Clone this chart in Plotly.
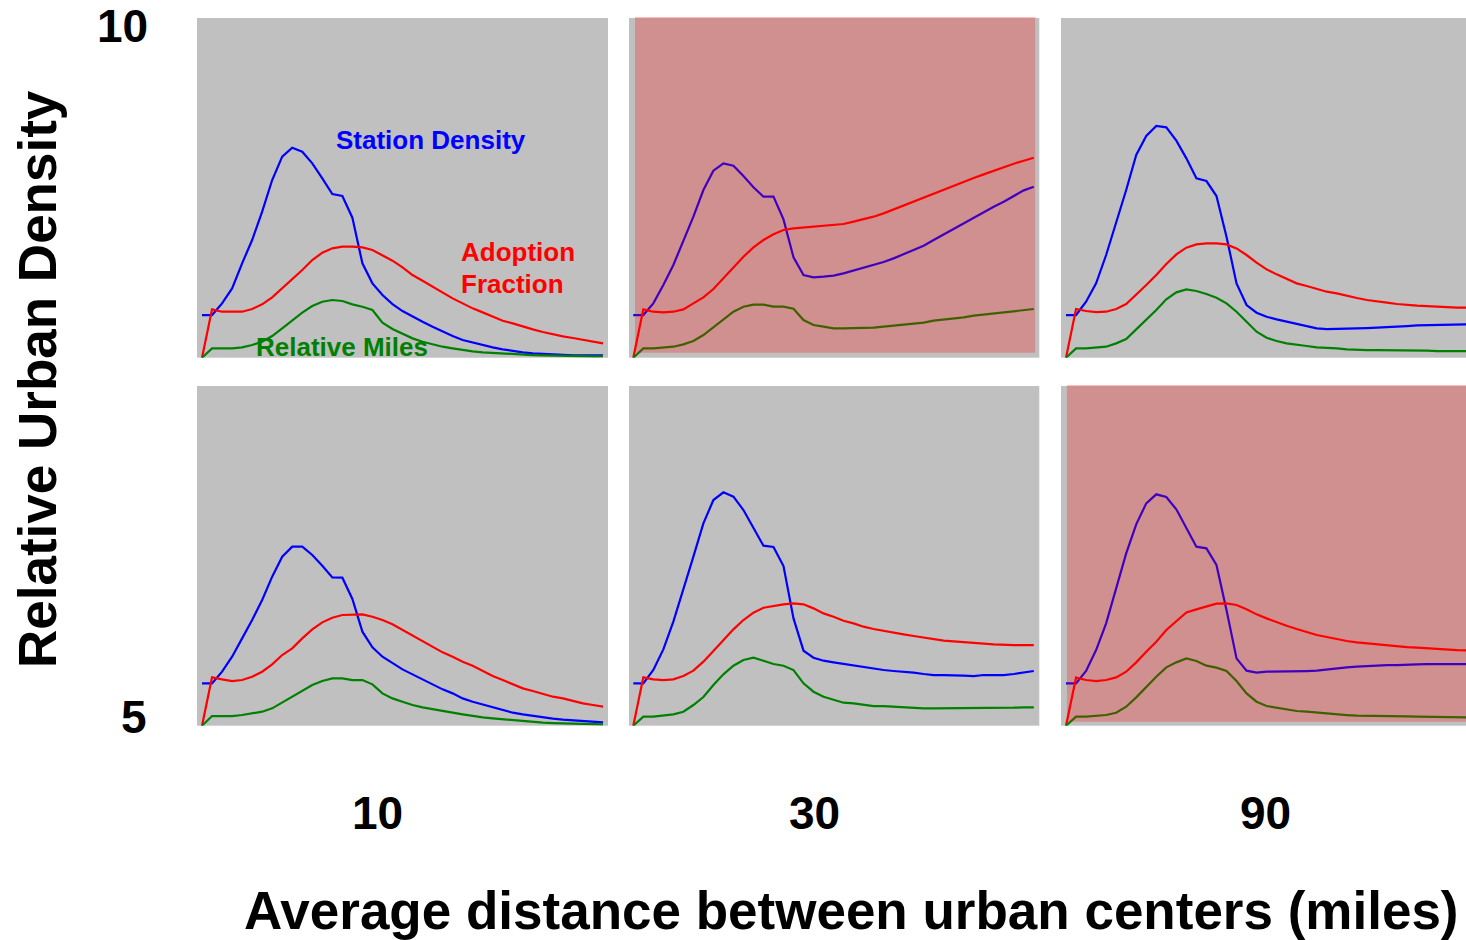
import plotly.graph_objects as go

# ---------------- data ----------------
steps = list(range(41))
col_labels = ["10", "30", "90"]
y_tick_labels = ["10", "5"]
series_names = ["Station Density", "Adoption Fraction", "Relative Miles"]

# top row
station_r1c1 = [12.8,12.8,16.3,20.8,28.3,35.3,43.8,53.3,60.3,63.0,61.8,58.3,53.8,49.1,48.5,42.0,28.3,22.3,18.8,16.1,
                14.0,12.3,10.8,9.3,7.8,6.5,5.3,4.5,3.8,3.1,2.5,2.0,1.6,1.3,1.1,0.9,0.8,0.7,0.7,0.7,0.7]
adopt_r1c1 = [0,14.5,13.8,13.7,13.8,14.6,16.0,18.1,20.8,23.5,26.3,29.3,31.5,32.8,33.3,33.3,33.1,32.3,30.8,29.1,
              27.1,24.8,23.1,21.3,19.5,17.8,16.3,14.8,13.6,12.3,11.1,10.3,9.3,8.5,7.7,7.0,6.4,5.9,5.4,4.8,4.3]
miles_r1c1 = [0,2.8,2.8,2.8,3.1,3.8,4.8,6.5,8.8,11.1,13.5,15.5,16.8,17.3,17.0,16.0,15.3,14.3,10.5,8.6,
              7.3,5.8,4.8,4.0,3.3,2.8,2.3,1.9,1.6,1.4,1.2,1.0,0.9,0.8,0.7,0.6,0.6,0.5,0.5,0.4,0.4]

station_r1c2 = [12.8,12.8,16.3,21.8,27.8,34.8,42.3,50.3,56.1,58.3,57.6,54.5,51.1,48.3,48.3,41.5,30.1,24.8,24.1,24.3,
                24.6,25.3,26.1,27.0,27.8,28.7,29.8,31.1,32.3,33.6,35.3,37.0,38.6,40.3,42.1,43.7,45.3,46.8,48.5,50.2,51.3]
adopt_r1c2 = [0,14.5,13.8,13.6,13.8,14.5,16.3,18.1,20.6,23.8,27.1,30.3,33.1,35.3,37.0,38.3,38.8,39.1,39.3,39.6,
              39.8,40.1,40.8,41.5,42.3,43.3,44.5,45.7,46.8,48.0,49.1,50.3,51.5,52.8,53.9,55.0,56.1,57.2,58.2,59.1,60.0]
miles_r1c2 = [0,2.8,2.8,3.1,3.3,4.0,5.0,6.8,9.1,11.6,13.8,15.3,15.9,15.9,15.3,15.3,14.7,11.3,9.8,9.3,
              8.8,8.8,8.8,8.8,9.0,9.3,9.6,9.9,10.2,10.5,11.1,11.4,11.7,12.1,12.6,12.9,13.2,13.5,13.8,14.3,14.6]

station_r1c3 = [12.8,12.8,16.8,22.3,30.8,40.3,50.3,60.8,66.5,69.5,69.1,65.1,59.8,53.8,53.0,48.5,36.3,22.3,15.8,13.5,
                12.3,11.5,10.8,10.0,9.3,8.8,8.6,8.6,8.6,8.8,8.9,9.0,9.2,9.3,9.5,9.7,9.8,9.8,10.0,10.0,10.0]
adopt_r1c3 = [0,14.6,14.0,13.7,13.8,14.6,16.1,18.8,21.8,24.8,28.1,31.0,33.0,34.0,34.3,34.3,34.0,32.8,30.8,28.5,
              26.5,25.0,23.7,22.3,21.5,20.7,19.8,19.3,18.5,17.9,17.3,16.8,16.5,16.1,15.8,15.6,15.5,15.3,15.2,15.0,15.0]
miles_r1c3 = [0,2.8,2.8,3.0,3.3,4.3,5.6,8.5,11.3,14.3,17.5,19.6,20.5,20.0,19.1,18.0,16.3,13.8,10.8,7.8,
              6.0,5.0,4.3,3.8,3.5,3.1,3.0,2.8,2.5,2.3,2.3,2.3,2.3,2.3,2.2,2.2,2.1,2.0,2.0,2.0,2.0]

# bottom row
station_r2c1 = [12.7,12.7,16.2,20.7,26.2,31.7,37.7,44.7,50.7,53.7,53.7,51.2,48.0,44.5,44.4,38.0,28.2,23.5,20.7,18.7,
                16.9,15.4,13.9,12.5,10.9,9.7,8.2,7.2,6.4,5.4,4.7,3.9,3.4,2.9,2.5,2.1,1.8,1.6,1.4,1.2,1.0]
adopt_r2c1 = [0,14.5,13.9,13.4,13.7,14.7,16.2,18.4,21.2,23.2,26.2,28.9,31.0,32.4,33.2,33.4,33.4,32.7,31.7,30.4,
              28.7,27.0,25.2,23.5,22.0,20.7,19.2,18.0,16.4,14.9,13.7,12.4,11.2,10.4,9.5,8.7,8.2,7.4,6.7,6.2,5.7]
miles_r2c1 = [0,2.9,2.9,2.9,3.2,3.7,4.2,5.2,6.9,8.7,10.5,12.2,13.4,14.2,14.2,13.7,13.7,12.4,9.7,8.2,
              7.2,6.2,5.5,4.9,4.4,3.9,3.4,2.9,2.5,2.2,1.9,1.6,1.4,1.2,0.9,0.8,0.7,0.6,0.5,0.4,0.4]

station_r2c2 = [12.7,12.7,16.7,22.9,31.2,40.7,50.7,60.7,67.7,70.0,68.7,64.7,59.4,54.0,53.6,47.9,32.2,22.5,20.4,19.5,
                19.0,18.5,18.2,17.7,17.2,16.7,16.4,16.2,15.9,15.5,15.2,15.2,15.2,15.0,14.9,15.2,15.2,15.2,15.5,15.9,16.4]
adopt_r2c2 = [0,14.5,13.9,13.7,13.9,14.9,16.5,19.2,22.4,25.7,28.9,31.7,33.9,35.4,36.0,36.4,36.7,36.4,35.2,33.7,
              32.7,31.5,30.7,29.7,29.0,28.4,27.9,27.4,26.9,26.4,25.8,25.5,25.3,25.0,24.8,24.6,24.4,24.2,24.2,24.2,24.2]
miles_r2c2 = [0,2.7,2.7,3.0,3.4,4.2,6.2,8.6,12.2,15.4,18.0,19.7,20.4,19.5,18.5,18.0,16.7,12.7,10.2,8.7,
              7.7,6.9,6.7,6.2,5.9,5.9,5.7,5.4,5.4,5.2,5.2,5.2,5.2,5.2,5.2,5.2,5.2,5.4,5.4,5.5,5.5]

station_r2c3 = [12.7,12.7,16.4,22.7,30.7,41.2,51.7,60.4,66.7,69.4,68.6,64.9,59.2,53.7,53.2,48.2,34.7,20.2,16.5,15.9,
                16.2,16.2,16.2,16.4,16.4,16.5,16.9,17.2,17.5,17.7,17.9,17.9,18.2,18.2,18.2,18.4,18.5,18.5,18.5,18.5,18.5]
adopt_r2c3 = [0,14.4,13.7,13.4,13.7,14.5,16.2,19.0,22.2,25.2,28.7,31.4,34.0,34.9,35.7,36.6,36.7,36.2,34.9,33.4,
              32.2,31.0,30.0,29.0,28.0,27.2,26.6,25.9,25.4,25.0,24.7,24.4,24.0,23.7,23.6,23.4,23.2,22.9,22.9,22.7,22.6]
miles_r2c3 = [0,2.7,2.7,3.0,3.2,3.9,5.7,8.5,11.7,14.7,17.5,19.0,20.2,19.4,18.0,17.4,16.4,13.4,9.7,7.2,
              5.9,5.4,4.9,4.4,4.2,3.9,3.7,3.4,3.2,3.0,3.0,2.8,2.8,2.8,2.8,2.7,2.7,2.6,2.6,2.5,2.5]

panels = [
    (station_r1c1, adopt_r1c1, miles_r1c1),
    (station_r1c2, adopt_r1c2, miles_r1c2),
    (station_r1c3, adopt_r1c3, miles_r1c3),
    (station_r2c1, adopt_r2c1, miles_r2c1),
    (station_r2c2, adopt_r2c2, miles_r2c2),
    (station_r2c3, adopt_r2c3, miles_r2c3),
]
highlighted = [2, 6]  # panels with red tint (1-based)

# ---------------- styling ----------------
W, H = 1466, 940
FONT = "Liberation Sans, Arial, sans-serif"
colors = ["#0000FF", "#FF0000", "#008000"]
col_dom = [(197, 608), (629, 1039.3), (1061, 1466)]
row_dom = [(18, 357.7), (386, 725.7)]
x_ranges = [[-0.5, 40.5], [-0.43, 40.55], [-0.5, 39.88]]
y_range = [0, 101.9]

fig = go.Figure()
layout = dict(
    width=W, height=H,
    margin=dict(l=0, r=0, t=0, b=0),
    paper_bgcolor="white",
    plot_bgcolor="#C0C0C0",
    showlegend=False,
    font=dict(family=FONT, color="black"),
)

for k, (st, ad, mi) in enumerate(panels):
    n = k + 1
    r, c = divmod(k, 3)
    suffix = "" if n == 1 else str(n)
    for vals, col, name in zip((st, ad, mi), colors, series_names):
        fig.add_trace(go.Scatter(x=steps, y=vals, mode="lines", name=name,
                                 line=dict(color=col, width=2.2),
                                 xaxis="x" + suffix, yaxis="y" + suffix,
                                 hoverinfo="skip"))
    x0, x1 = col_dom[c]
    y0, y1 = row_dom[r]
    layout["xaxis" + suffix] = dict(domain=[x0 / W, x1 / W], range=x_ranges[c],
                                    anchor="y" + suffix, visible=False, fixedrange=True)
    layout["yaxis" + suffix] = dict(domain=[1 - y1 / H, 1 - y0 / H], range=y_range,
                                    anchor="x" + suffix, visible=False, fixedrange=True)

fig.update_layout(**layout)

shapes = []
for n in highlighted:
    suffix = "" if n == 1 else str(n)
    shapes.append(dict(type="rect", xref="x" + suffix + " domain", yref="y" + suffix + " domain",
                       x0=0.0146, x1=0.99 if n != 6 else 1.02, y0=0.0147 if n != 6 else 0.0118, y1=1.003,
                       fillcolor="rgba(255,0,0,0.25)", line=dict(width=0), layer="above"))
fig.update_layout(shapes=shapes)

ann = []
def px_ann(text, x, y, size, color="black", xanchor="center", angle=0):
    ann.append(dict(text="<b>" + text + "</b>", x=x / W, y=1 - y / H, xref="paper", yref="paper",
                    showarrow=False, xanchor=xanchor, yanchor="middle", textangle=angle,
                    font=dict(family=FONT, size=size, color=color)))

# in-panel series labels
px_ann("Station Density", 431, 140, 26, colors[0])
px_ann("Adoption", 459, 252, 26, colors[1], xanchor="left")
px_ann("Fraction", 459, 284, 26, colors[1], xanchor="left")
px_ann("Relative Miles", 342, 347, 26, colors[2])

# axis labels
px_ann(y_tick_labels[0], 122, 26, 46)
px_ann(y_tick_labels[1], 134, 717, 46)
for lab, cx in zip(col_labels, [377, 814, 1265]):
    px_ann(lab, cx, 813, 46)
px_ann("Relative Urban Density", 37, 379, 53, angle=-90)
px_ann("Average distance between urban centers (miles)", 851, 910, 53)

fig.update_layout(annotations=ann)
fig.write_html("out.html", config={"displayModeBar": False, "staticPlot": True})

# remove the browser's default page margin so the figure sits at the top-left corner
with open("out.html", "r", encoding="utf-8") as f:
    html = f.read()
html = html.replace("<head>", "<head><style>html,body{margin:0;padding:0;overflow:hidden;}</style>", 1)
with open("out.html", "w", encoding="utf-8") as f:
    f.write(html)
